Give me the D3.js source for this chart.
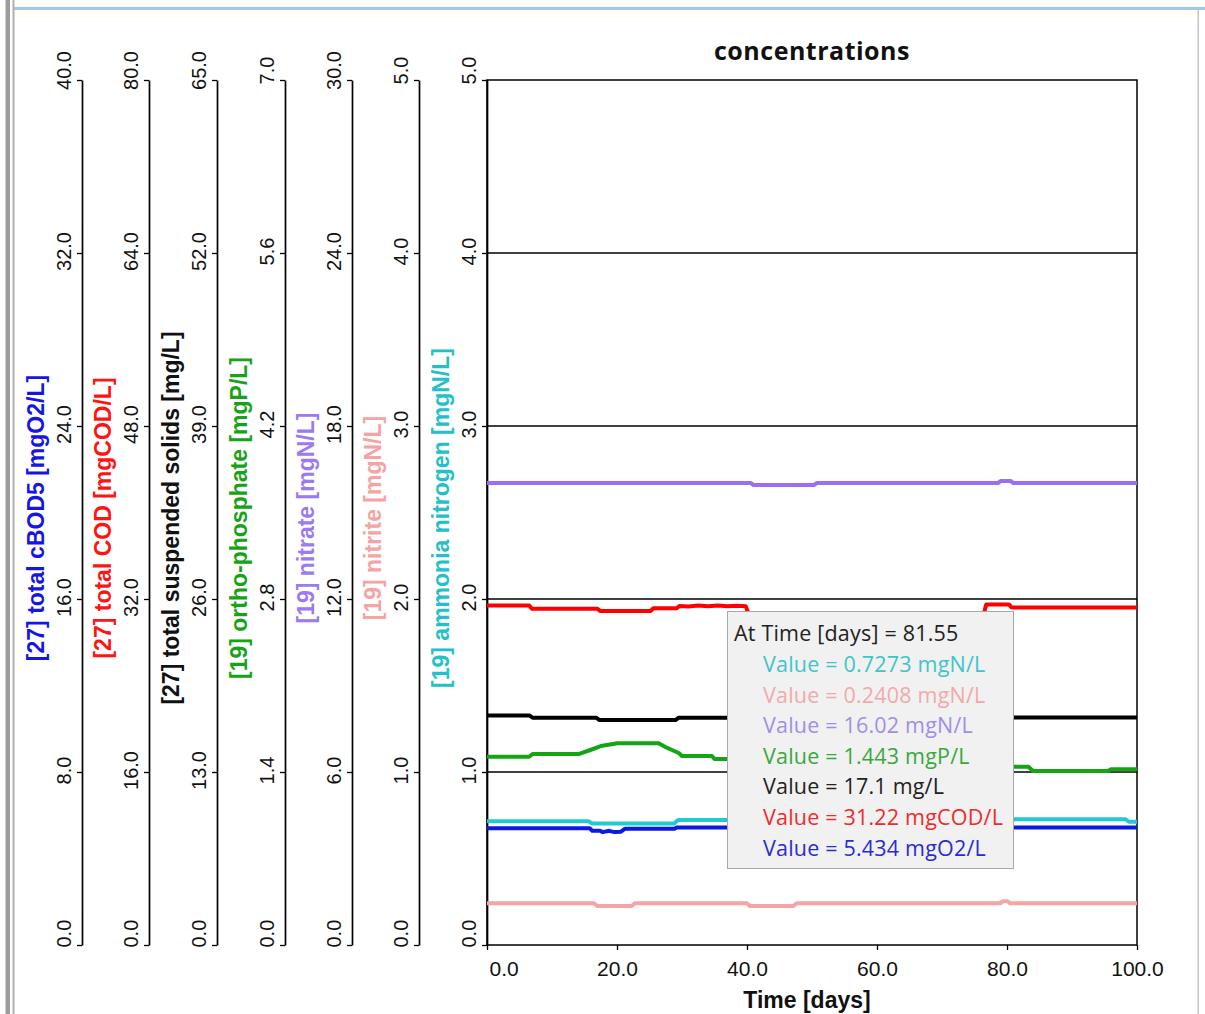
<!DOCTYPE html>
<html>
<head>
<meta charset="utf-8">
<script src="https://cdn.jsdelivr.net/npm/d3@7"></script>
<style>
  html, body { margin: 0; padding: 0; background: #ffffff; }
  svg { display: block; }
</style>
</head>
<body>
<svg id="chart" width="1205" height="1014"></svg>
<script>
// ---- data: [time (days), value] ----
const ammonia = [[0,0.715],[15.6,0.715],[16.2,0.702],[28.8,0.702],[29.4,0.722],[37,0.722],[81.55,0.7273],[98.2,0.7273],[98.8,0.712],[100,0.712]];
const nitrite = [[0,0.2408],[16.5,0.2408],[16.9,0.226],[22.3,0.226],[22.7,0.2408],[40.0,0.2408],[40.4,0.226],[47.2,0.226],[47.6,0.2408],[79.0,0.2408],[79.3,0.253],[80.1,0.253],[80.5,0.2408],[100,0.2408]];
const nitrate = [[0,16.02],[40.6,16.02],[41.0,15.95],[50.3,15.95],[50.7,16.02],[78.6,16.02],[79.0,16.09],[80.6,16.09],[81.0,16.02],[100,16.02]];
const orthoP = [[0,1.524],[6.5,1.524],[7,1.546],[14.2,1.546],[16,1.58],[17.5,1.61],[19.4,1.627],[20,1.632],[26.4,1.632],[27.5,1.60],[29.5,1.554],[30,1.530],[34.6,1.530],[35,1.505],[37,1.505],[81.55,1.443],[83.3,1.443],[84,1.408],[95.5,1.408],[96,1.422],[100,1.422]];
const tss = [[0,17.25],[6.5,17.25],[7,17.08],[16.8,17.08],[17.3,16.90],[29.0,16.90],[29.5,17.08],[37,17.08],[81.55,17.1],[100,17.1]];
const cod = [[0,31.40],[6.5,31.40],[6.9,31.10],[17.0,31.10],[17.4,30.90],[25.2,30.90],[25.6,31.15],[29.2,31.15],[29.6,31.36],[31,31.30],[32.5,31.40],[34,31.32],[35.5,31.40],[37,31.33],[38.5,31.38],[39.8,31.34],[40.3,30.55],[76.4,30.55],[76.8,31.50],[80.3,31.50],[80.7,31.22],[100,31.22]];
const cbod5 = [[0,5.40],[15.8,5.40],[16.2,5.28],[17.4,5.28],[17.8,5.22],[18.8,5.28],[19.6,5.22],[20.6,5.24],[21.2,5.37],[28.8,5.37],[29.2,5.43],[37,5.43],[81.55,5.434],[100,5.434]];

// axis ranges, left to right
const axisMax = [40, 80, 65, 7, 30, 5, 5];
const axisTitles = [
  "[27] total cBOD5 [mgO2/L]",
  "[27] total COD [mgCOD/L]",
  "[27] total suspended solids [mg/L]",
  "[19] ortho-phosphate [mgP/L]",
  "[19] nitrate [mgN/L]",
  "[19] nitrite [mgN/L]",
  "[19] ammonia nitrogen [mgN/L]"
];
const timeTicks = [0, 20, 40, 60, 80, 100];
const cursorTime = 81.55;
const readout = [
  "Value = 0.7273 mgN/L",
  "Value = 0.2408 mgN/L",
  "Value = 16.02 mgN/L",
  "Value = 1.443 mgP/L",
  "Value = 17.1 mg/L",
  "Value = 31.22 mgCOD/L",
  "Value = 5.434 mgO2/L"
];

// ---- styling ----
const titleColors = ["#1616e4", "#ff1414", "#111111", "#17a317", "#9b7af2", "#f5a3a3", "#22c1c8"];
const lineColors  = ["#0a18e8", "#ff0000", "#000000", "#14a514", "#9b6ff3", "#f4a5a5", "#1fcad2"];
const readoutColors = ["#3ec5cb", "#f2aaaa", "#a08fe8", "#3aa840", "#222222", "#ef2b2b", "#2b2bd0"];

const svg = d3.select("#chart");
const W = 1205, H = 1014;
const plot = { left: 487, right: 1137, top: 80, bottom: 945 };
const axisXs = [82, 149, 217, 285, 352, 419, 487];
const tickFont = "Liberation Sans, Arial, sans-serif";

// window frame
svg.append("rect").attr("x", 0).attr("y", 0).attr("width", W).attr("height", H).attr("fill", "#ffffff");
svg.append("rect").attr("x", 14).attr("y", 7).attr("width", W - 14).attr("height", 3).attr("fill", "#9fc8ee");
svg.append("rect").attr("x", 14).attr("y", 10).attr("width", W - 20).attr("height", 8).attr("fill", "#fffdf6");
svg.append("rect").attr("x", 5.5).attr("y", 0).attr("width", 4.5).attr("height", H).attr("fill", "#9c9c9c");
svg.append("rect").attr("x", 12.5).attr("y", 0).attr("width", 2).attr("height", H).attr("fill", "#b0b0b0");
svg.append("rect").attr("x", 1197.5).attr("y", 8).attr("width", 1.5).attr("height", H - 8).attr("fill", "#c4c4c4");

// scales
const x = d3.scaleLinear().domain([0, 100]).range([plot.left, plot.right]);
const yScales = axisMax.map(m => d3.scaleLinear().domain([0, m]).range([plot.bottom, plot.top]));

// title
svg.append("text")
  .attr("x", (plot.left + plot.right) / 2).attr("y", 60)
  .attr("text-anchor", "middle")
  .attr("font-family", "Open Sans, Noto Sans, sans-serif")
  .attr("font-weight", "bold").attr("font-size", 25)
  .attr("letter-spacing", 0.5)
  .attr("fill", "#111").text("concentrations");

// gridlines on the main (rightmost) scale
const mainY = yScales[6];
svg.append("g").selectAll("line").data([1, 2, 3, 4]).join("line")
  .attr("x1", plot.left).attr("x2", plot.right)
  .attr("y1", d => mainY(d)).attr("y2", d => mainY(d))
  .attr("stroke", "#000").attr("stroke-width", 1.5);

// plot frame
svg.append("rect")
  .attr("x", plot.left).attr("y", plot.top)
  .attr("width", plot.right - plot.left).attr("height", plot.bottom - plot.top)
  .attr("fill", "none").attr("stroke", "#000").attr("stroke-width", 1.5);

// rotated tick label placement: bottom label sits above its tick,
// top label above the axis end, the rest centred a touch above the tick
function tickLabelTransform(d, max) {
  if (d === 0) return "translate(-11,2) rotate(-90)";
  if (d === max) return "translate(-11,-10) rotate(-90)";
  return "translate(-11,-2) rotate(-90)";
}

// vertical axes
yScales.forEach((s, i) => {
  const max = axisMax[i];
  const ticks = d3.range(0, 6).map(k => max * k / 5);
  const g = svg.append("g").attr("transform", `translate(${axisXs[i]},0)`);
  g.call(d3.axisLeft(s).tickValues(ticks).tickSize(5).tickSizeOuter(0).tickFormat(d3.format(".1f")));
  g.select(".domain").attr("stroke", "#000").attr("stroke-width", 1.7);
  g.selectAll(".tick line").attr("stroke", "#000").attr("stroke-width", 1.3);
  g.selectAll(".tick text")
    .attr("x", null).attr("dy", null)
    .attr("transform", d => tickLabelTransform(d, max))
    .attr("text-anchor", d => d === 0 ? "start" : "middle")
    .attr("font-family", tickFont).attr("font-size", 20).attr("fill", "#111");
  svg.append("text")
    .attr("transform", `translate(${axisXs[i] - 38},518) rotate(-90)`)
    .attr("text-anchor", "middle")
    .attr("font-family", "Liberation Sans, Arial, sans-serif")
    .attr("font-weight", "bold").attr("font-size", 23)
    .attr("fill", titleColors[i]).text(axisTitles[i]);
});

// time axis
const xg = svg.append("g").attr("transform", `translate(0,${plot.bottom})`);
xg.call(d3.axisBottom(x).tickValues(timeTicks).tickSize(5).tickSizeOuter(0).tickFormat(d3.format(".1f")));
xg.select(".domain").remove();
xg.selectAll(".tick line").attr("stroke", "#000").attr("stroke-width", 1.3);
xg.selectAll(".tick text")
  .attr("y", 31).attr("dy", null)
  .attr("text-anchor", d => d === 0 ? "start" : "middle")
  .attr("x", d => d === 0 ? 2 : 0)
  .attr("font-family", tickFont).attr("font-size", 21).attr("fill", "#111");
svg.append("text")
  .attr("x", 807).attr("y", 1008).attr("text-anchor", "middle")
  .attr("font-family", "Liberation Sans, Arial, sans-serif")
  .attr("font-weight", "bold").attr("font-size", 23)
  .attr("fill", "#111").text("Time [days]");

// series, each on its own scale
const series = [
  { data: ammonia, axis: 6, color: lineColors[6] },
  { data: nitrite, axis: 5, color: lineColors[5] },
  { data: nitrate, axis: 4, color: lineColors[4] },
  { data: orthoP,  axis: 3, color: lineColors[3] },
  { data: tss,     axis: 2, color: lineColors[2] },
  { data: cod,     axis: 1, color: lineColors[1] },
  { data: cbod5,   axis: 0, color: lineColors[0] }
];
const lines = svg.append("g");
series.forEach(sr => {
  const line = d3.line().x(d => x(d[0])).y(d => yScales[sr.axis](d[1]));
  lines.append("path").datum(sr.data)
    .attr("d", line).attr("fill", "none")
    .attr("stroke", sr.color).attr("stroke-width", 4)
    .attr("stroke-linejoin", "round");
});

// cursor readout box
const tip = svg.append("g").attr("transform", "translate(727,611)");
tip.append("rect").attr("x", 0.5).attr("y", 0.5).attr("width", 286).attr("height", 257)
  .attr("fill", "#f1f1f1").attr("stroke", "#a8a8a8").attr("stroke-width", 1);
const tipFont = "Segoe UI, Open Sans, Noto Sans, sans-serif";
tip.append("text").attr("x", 7).attr("y", 30)
  .attr("font-family", tipFont).attr("font-size", 21.5).attr("letter-spacing", 0.2).attr("fill", "#222")
  .text(`At Time [days] = ${cursorTime}`);
tip.selectAll("text.v").data(readout).join("text").attr("class", "v")
  .attr("x", 36).attr("y", (d, i) => 61 + i * 30.6)
  .attr("font-family", tipFont).attr("font-size", 21.5).attr("letter-spacing", 0.2)
  .attr("fill", (d, i) => readoutColors[i]).text(d => d);
</script>
</body>
</html>
